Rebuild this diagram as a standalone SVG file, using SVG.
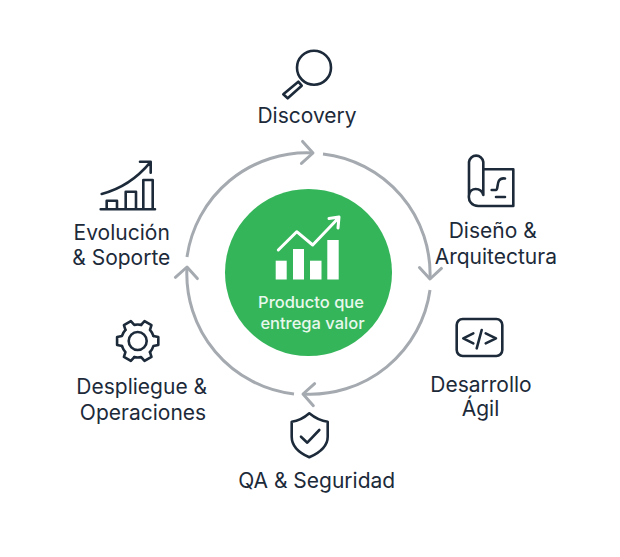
<svg xmlns="http://www.w3.org/2000/svg" xmlns:xlink="http://www.w3.org/1999/xlink" width="620" height="557" viewBox="0 0 620 557">
<style>
.lbl{font-family:"Inter","Liberation Sans",sans-serif;font-size:21px;fill:#1c2a3a;text-anchor:middle}
.in{font-family:"Inter","Liberation Sans",sans-serif;font-size:16.5px;font-weight:500;fill:#e8f8ec;text-anchor:middle}
.ic{fill:none;stroke:#1c2a3a;stroke-width:2.6;stroke-linecap:round;stroke-linejoin:round}
.arc{fill:none;stroke:#a5aab0;stroke-width:3;marker-end:url(#open)}
</style>
<defs>
<marker id="open" markerUnits="userSpaceOnUse" markerWidth="30" markerHeight="30" refX="15" refY="15" orient="auto" overflow="visible">
<path d="M4 4L15 15L4 26" fill="none" stroke="#a5aab0" stroke-width="3" stroke-linecap="round" stroke-linejoin="round"/>
</marker>
<path id="tooth" d="M15.69 -5.1L20.61 -4.01L20.61 4.01L15.69 5.1A16.5 16.5 0 0 1 12.26 11.04"/>
</defs>
<rect width="620" height="557" fill="#fff"/>
<g id="connectors">
<path class="arc" d="M187 257A121 121 0 0 1 313 153"/>
<path class="arc" d="M323 154A121 121 0 0 1 430 279"/>
<path class="arc" d="M430 290A121 121 0 0 1 303 394"/>
<path class="arc" d="M294 394A121 121 0 0 1 187 267"/>
</g>
<g id="center">
<circle cx="308.5" cy="272.5" r="83.5" fill="#34b55a"/>
<g fill="#fff">
<rect x="275.7" y="260.7" width="11" height="18.8"/>
<rect x="293" y="249" width="11" height="30.5"/>
<rect x="310" y="260.7" width="11.5" height="18.8"/>
<rect x="327.3" y="240" width="11.4" height="39.5"/>
</g>
<path d="M278.3 250L296.7 231.7L312.7 245L338 218.5M329 218.5L339 217L338 228" fill="none" stroke="#fff" stroke-width="3" stroke-linecap="round" stroke-linejoin="round"/>
<text class="in" x="311" y="308">Producto que</text>
<text class="in" x="312.5" y="329">entrega valor</text>
</g>
<g id="discovery">
<circle class="ic" cx="314" cy="67.7" r="17"/>
<path class="ic" d="M298.3 81.7L301.7 85.7L287.7 98.3L283.3 94.3Z"/>
<text class="lbl" x="307" y="123.4">Discovery</text>
</g>
<g id="diseno">
<path class="ic" d="M483.3 169.3H513.3V206H478.3M469 195V162A7.2 7.2 0 0 1 483.3 162V195C481 187 470 187 469 195C468 201 472 206 478.3 206"/>
<path class="ic" d="M491.7 190H496C499 190 495 177 505 178.5M496 197H505" stroke-width="2.2"/>
<text class="lbl" x="492.7" y="238">Diseño &amp;</text>
<text class="lbl" x="495.8" y="264">Arquitectura</text>
</g>
<g id="desarrollo">
<rect class="ic" x="456.7" y="319" width="45.6" height="37" rx="6"/>
<path class="ic" d="M473.3 333.3L463.3 338.3L473.3 343.3M481.7 330L476.7 348.3M485.7 333.3L496 338.3L485.7 343.3"/>
<text class="lbl" x="481" y="392">Desarrollo</text>
<text class="lbl" x="480.5" y="416">Ágil</text>
</g>
<g id="qa">
<path class="ic" d="M309.3 413.3C315 418 321 421 327.7 421.7V436.7C327.7 446 319 453 309.3 457.3C299.5 453 291.7 446 291.7 436.7V421.7C298 421 304 418 309.3 413.3Z"/>
<path class="ic" d="M301 436.7L307.3 442.7L319.3 430"/>
<text class="lbl" x="316.7" y="488.4">QA &amp; Seguridad</text>
</g>
<g id="despliegue">
<g class="ic" transform="translate(137.7 341)">
<circle r="9"/>
<use xlink:href="#tooth" href="#tooth"/>
<use xlink:href="#tooth" href="#tooth" transform="rotate(60)"/>
<use xlink:href="#tooth" href="#tooth" transform="rotate(120)"/>
<use xlink:href="#tooth" href="#tooth" transform="rotate(180)"/>
<use xlink:href="#tooth" href="#tooth" transform="rotate(240)"/>
<use xlink:href="#tooth" href="#tooth" transform="rotate(300)"/>
</g>
<text class="lbl" x="141.7" y="394">Despliegue &amp;</text>
<text class="lbl" x="143" y="420">Operaciones</text>
</g>
<g id="evolucion">
<path class="ic" d="M100.7 209.3H155M106.7 209V200.7H117V209M125.7 209V191.7H136V209M143.3 209V180H152.7V209M101.7 194Q130 186.7 150 162.7M140 161.7H150.7V172.7"/>
<text class="lbl" x="121.7" y="240">Evolución</text>
<text class="lbl" x="121.3" y="265.4">&amp; Soporte</text>
</g>
</svg>
